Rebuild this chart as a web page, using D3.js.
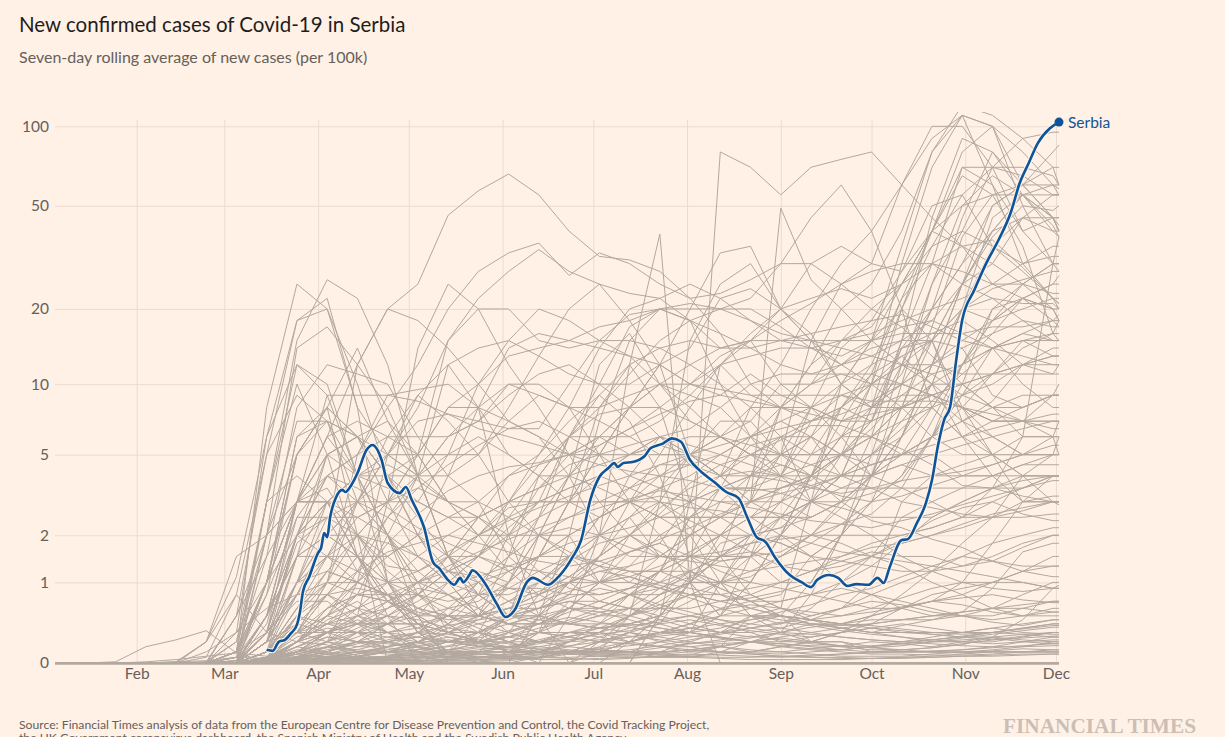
<!DOCTYPE html>
<html><head><meta charset="utf-8">
<script src="https://cdn.jsdelivr.net/npm/d3@7"></script>
<style>
html,body{margin:0;padding:0;background:#fff1e5;}
svg{display:block;font-family:Lato,"Noto Sans",sans-serif;}
</style></head><body>
<svg id="chart" width="1225" height="737"></svg>
<script>
// ---------- DATA ----------
const yTicks = [0, 1, 2, 5, 10, 20, 50, 100];
const monthTicks = ["2020-02-01","2020-03-01","2020-04-01","2020-05-01","2020-06-01","2020-07-01","2020-08-01","2020-09-01","2020-10-01","2020-11-01","2020-12-01"];

const serbiaDates = ["2020-03-15","2020-03-17","2020-03-19","2020-03-21","2020-03-23","2020-03-25","2020-03-26","2020-03-27","2020-03-29","2020-04-01","2020-04-02","2020-04-03","2020-04-04","2020-04-05","2020-04-07","2020-04-09","2020-04-10","2020-04-12","2020-04-14","2020-04-17","2020-04-19","2020-04-22","2020-04-24","2020-04-28","2020-04-30","2020-05-02","2020-05-06","2020-05-09","2020-05-11","2020-05-14","2020-05-16","2020-05-18","2020-05-19","2020-05-21","2020-05-22","2020-05-26","2020-05-30","2020-06-02","2020-06-05","2020-06-09","2020-06-11","2020-06-16","2020-06-20","2020-06-24","2020-06-27","2020-06-30","2020-07-03","2020-07-06","2020-07-08","2020-07-09","2020-07-11","2020-07-14","2020-07-18","2020-07-20","2020-07-24","2020-07-27","2020-07-30","2020-08-02","2020-08-05","2020-08-10","2020-08-14","2020-08-18","2020-08-21","2020-08-24","2020-08-27","2020-08-30","2020-09-04","2020-09-08","2020-09-11","2020-09-13","2020-09-17","2020-09-20","2020-09-23","2020-09-26","2020-09-30","2020-10-03","2020-10-05","2020-10-07","2020-10-11","2020-10-13","2020-10-16","2020-10-19","2020-10-21","2020-10-23","2020-10-25","2020-10-27","2020-10-29","2020-10-31","2020-11-04","2020-11-08","2020-11-12","2020-11-16","2020-11-19","2020-11-22","2020-11-25","2020-11-29","2020-12-02"];
const serbiaValues = [0.12,0.11,0.20,0.22,0.29,0.39,0.55,0.85,1.09,1.58,1.69,2.06,1.95,2.51,3.17,3.43,3.35,3.62,4.11,5.24,5.52,4.73,3.70,3.31,3.54,3.06,2.22,1.38,1.26,1.04,0.96,1.08,1.00,1.13,1.22,1.00,0.67,0.485,0.577,1.00,1.08,0.96,1.13,1.47,1.88,3.06,3.95,4.35,4.58,4.40,4.58,4.63,4.93,5.35,5.6,5.9,5.7,4.73,4.26,3.74,3.35,3.13,2.48,1.95,1.83,1.49,1.13,1.00,0.92,1.04,1.13,1.08,0.94,0.97,0.96,1.08,0.99,1.28,1.88,1.90,2.33,2.96,3.82,5.5,7.08,8.05,12.5,18.1,23.7,30.2,37,46.9,61,72.7,86.4,98.3,103.7];

// sample dates for the other countries (every ten days)
const sampleDates = ["2020-01-05","2020-01-15","2020-01-25","2020-02-04","2020-02-14","2020-02-24","2020-03-05","2020-03-15","2020-03-25","2020-04-04","2020-04-14","2020-04-24","2020-05-04","2020-05-14","2020-05-24","2020-06-03","2020-06-13","2020-06-23","2020-07-03","2020-07-13","2020-07-23","2020-08-02","2020-08-12","2020-08-22","2020-09-01","2020-09-11","2020-09-21","2020-10-01","2020-10-11","2020-10-21","2020-10-31","2020-11-10","2020-11-20","2020-11-30","2020-12-02"];

const europeSeries = [
[0,0,0,0,0,0,0.1,3,15,26,22,12,4,1.5,0.8,0.5,0.6,1,2,4,6,5,4,8,12,20,30,40,60,90,110,100,80,60,55],
[0,0,0,0,0,0,0.05,2,14,17,12,8,4,1.5,0.8,0.5,0.6,0.8,1.5,3,5,8,12,16,20,22,24,22,25,35,40,35,28,22,21],
[0,0,0,0,0,0.05,0.8,5,9,7,6,4,2.5,1.5,1,0.5,0.5,0.4,0.35,0.4,0.5,0.7,1,1.8,2.5,2.5,3,4,8,17,38,55,55,42,38],
[0,0,0,0,0,0,0.1,1.5,8,12,11,10,6,4,3,1.5,1,1,1,2,3,5,6,5,4,6,10,15,35,80,110,60,30,22,20],
[0,0,0,0,0,0,0.3,6,12,9,4,2,0.8,0.4,0.2,0.3,0.4,0.6,1,1.3,1.5,2,2.5,3,3.5,4,5,7,15,45,90,80,55,40,38],
[0,0,0,0,0,0,0.1,1,5,7,6,4,2,1,0.5,0.4,0.4,0.4,0.5,0.8,1.2,2.5,3.5,3.5,4,8,14,18,28,50,55,35,30,32,32],
[0,0,0,0,0,0,0.1,0.8,5,8,6,3,1.5,1,0.5,0.6,0.6,0.7,0.7,0.9,1.2,2,3.5,6,8,12,15,17,25,40,65,55,35,16,15],
[0,0,0,0,0,0,0.02,0.5,3,6,7,6,5,3,2,1.2,0.8,0.6,0.6,0.8,0.9,1.1,1.4,1.5,2,4,7,11,22,30,35,37,29,22,21],
[0,0,0,0,0,0.01,0.2,2,7,7,3,2,1,0.8,0.5,0.4,0.4,0.6,0.5,0.5,0.7,1,1.5,1.6,1.5,1.8,2.3,3,6,12,20,22,21,21,20],
[0,0,0,0,0,0,0.1,3,10,5,1.5,0.7,0.4,0.3,0.3,0.2,0.3,0.6,1,1.2,1.2,1.5,2,2.5,3.5,4,6,8,11,20,45,80,60,45,42],
[0,0,0,0,0,0,0.05,1,5,8,14,7,4,1.5,0.6,0.3,0.2,0.2,0.3,0.4,0.5,1,1.5,2,2.2,3,4,8,14,15,8,6,5,5,5],
[0,0,0,0,0,0,0.1,1,2,4,5,6,6,6,7,10,10,8,5,3,2.5,2.5,2.5,2.5,2.5,3,4,5,7,10,20,45,55,55,55],
[0,0,0,0,0,0,0,1,6,8,6,4,3,2.5,2.5,3,3,3,3,2,1.5,1.5,1.5,2,3,4,6,7,12,20,30,50,60,45,40],
[0,0,0,0,0,0,0.02,0.8,2.5,2.5,1.2,0.7,0.5,0.5,0.4,0.5,0.7,1,1.2,1.3,2,2.5,2.5,3.5,5,15,25,30,60,100,100,70,40,45,40],
[0,0,0,0,0,0,0.5,5,18,22,8,1,0.3,0.1,0,0,0.05,0.2,0.3,0.5,0.8,1.2,1,0.5,0.6,3,10,15,20,15,7,5,4,3,3],
[0,0,0,0,0,0.2,1.1,6,18,20,8,5,4,12,8,2,0.5,0,0.2,0.5,0.8,1,0.5,1,2,4,3,6,15,30,70,60,40,30,30],
[0,0,0,0,0,0,0.1,8,25,20,10,4,2,1,0.5,1,2,4,12,16,10,8,6,8,8,10,12,15,25,40,80,100,60,70,70],
[0,0,0,0,0,0,0.2,3,4,3,1.5,0.8,0.3,0.1,0.1,0.1,0.3,0.7,0.6,0.8,0.8,1,1,1,2,3,4,8,20,40,70,70,70,65,60],
[0,0,0,0,0,0,0.05,0.5,1.5,2,1.5,0.8,0.3,0.1,0,0.1,0.3,1.5,2,2.5,1.5,1.5,3,4,6,6,4,4,6,12,25,50,60,80,85],
[0,0,0,0,0,0,0,0.1,0.5,0.8,0.9,0.8,0.4,0.3,0.2,0.1,0.1,0.1,0.1,0.1,0.2,0.3,0.5,1.5,4,7,9,8,10,15,25,30,45,55,55],
[0,0,0,0,0,0,0,0.1,0.6,1,0.8,0.8,0.8,0.7,0.8,0.9,0.9,0.8,0.8,0.9,1,1.5,2,2,1.8,1.5,2,4,10,25,50,65,55,45,40],
[0,0,0,0,0,0,0,0.2,1,1.5,2,1.8,1.5,1,0.8,0.8,1,1.5,2.5,3.5,4.5,4.5,4,5,6,5,5,7,14,20,30,40,45,40,40],
[0,0,0,0,0,0,0,0.1,0.3,0.4,0.4,0.4,0.4,0.3,0.3,0.5,1,1.5,2,2.5,3,2.2,1.5,1.5,1,1,2,4,6,12,25,40,55,45,45],
[0,0,0,0,0,0,0,0.2,1.5,1.5,1.5,1,0.6,0.5,0.5,1.5,4,6,6,5,6,5,4,3,3,2.5,3,4,6,10,20,35,45,45,45],
[0,0,0,0,0,0,0,0.2,2,3,1.5,0.5,0,0,0,0,0.5,2,7,15,20,18,14,15,20,30,35,30,28,40,50,55,60,60,58],
[0,0,0,0,0,0,0,0,0.2,0.5,0.8,1,1,1,1.1,1.3,1.5,1.8,2,2.2,2.5,3,4,5.5,6,7,8,10,12,15,20,24,26,28,28],
[0,0,0,0,0,0,0,0.05,0.3,1,3,5,7,7.5,6.5,6,5.5,5,4.5,4.2,4,3.8,3.5,3.4,3.5,3.8,5,6.5,9,11,12,14,16,18,18],
[0,0,0,0,0,0,0,0.1,1,2,3,4,4,4,5,7,9,8,8,9,10,10,12,13,14,14,15,16,18,20,22,25,30,35,35],
[0,0,0,0,0,0,0,0.2,0.8,1,1,0.8,0.3,0.2,0.2,0.5,2,4,6,6,5,5,4,4,4,4,5,5,6,8,12,16,22,25,25],
[0,0,0,0,0,0,0,0.2,1,1.2,1,0.8,0.5,0.3,0.2,0.2,0.2,0.3,0.3,0.5,0.8,1,1,1.2,1.5,2,3,4,8,15,25,40,55,60,60],
[0,0,0,0,0,0,0,0.5,2,1.5,1,0.8,0.5,0.3,0.2,0.1,0.1,0.1,0.1,0.2,0.3,0.3,0.5,0.5,0.5,1,2,3,4,7,12,18,25,30,30],
[0,0,0,0,0,0,0.02,0.3,0.7,0.7,0.4,0.2,0.1,0.05,0.05,0.05,0.05,0.1,0.2,0.3,0.4,1,1.8,2,2.2,2.5,3,3.3,3.8,6,12,20,22,18,17],
[0,0,0,0,0,0,0.5,2,3,3,3,2.5,2,1.2,0.8,0.5,0.4,0.4,0.4,0.4,0.5,1,1.5,1.5,2,4,6,6,5,6,9,14,15,13,13],
[0,0,0,0,0,0,0.02,0.5,1.5,2,1.5,1,0.8,0.5,0.3,0.2,0.1,0.1,0.1,0.1,0.1,0.2,0.3,0.5,0.4,0.6,1,1.5,2.5,3,2.5,2.5,4,4,4],
[0,0,0,0,0,0,0,0.3,0.8,0.8,0.5,0.3,0.1,0.05,0.1,0.1,0.2,0.3,0.3,0.5,0.6,0.8,1,1.5,2.5,4,8,12,22,40,35,30,25,23,23],
[0,0,0,0,0,0,0,0.05,0.1,0.3,0.4,0.4,0.2,0.1,0.1,0.1,0.1,0.1,0.1,0.1,0.05,0.05,0.1,0.2,0.3,0.8,2,5,12,25,40,70,90,95,95],
[0,0,0,0,0,0,0,1,3,3,1.5,0.7,0.4,0.1,0.3,0.1,0,0,0.1,0.2,0.5,3,12,15,10,8,6,4,5,8,12,18,22,20,18],
[0,0,0,0,0,0,0,1,3,3,2,1,0.4,0.1,0.1,0.1,0.1,0.1,0.1,0.2,0.3,0.4,0.6,0.7,0.8,1.5,2,3,4,6,10,20,25,20,18],
[0,0,0,0,0,0,0,3,12,10,4,1,0.5,0,0,0,0.5,1,1.5,2,2,1,0.5,1,2,3,5,10,30,70,110,100,50,30,30]
];

const americasMiddleEastSeries = [
[0,0,0,0,0,0,0.3,1,3,6,12,20,25,46,57,66,55,40,32,31,28,22,16,10,8,8,7,7,8,9,8,7,7,6,6],
[0,0,0,0,0,0.2,1.5,2,3,4,5,8,12,20,28,33,36,27,33,30,25,22,23,26,30,30,25,20,17,13,10,8,6,6,6],
[0,0,0,0,0,0.1,0.3,0.6,0.8,1.5,3,5,8,15,20,20,15,14,15,15,14,15,14,14,15,15,15,15,17,18,16,14,10,8,8],
[0,0,0,0,0,0,0,0.3,3,9,9,9,8.5,7.5,7,6.5,6.5,10,15,19,20,18,16,14,12,11,12,13,15,18,25,38,50,48,50],
[0,0,0,0,0,0,0,0.05,0.5,1,2,3,5,8,10,13,14,15,17,18,20,21,20,18,16,15,14,13,12,11,9,11,14,16,18],
[0,0,0,0,0,0,0,0.3,2,2.5,2.5,3,5,15,22,28,34,28,25,18,12,10,9.5,9,9,9,9,8.5,8.5,8.5,8,7.5,7,7,7],
[0,0,0,0,0,0,0,0.1,0.8,2,3,6,9,12,14,15,13,11,10,10,12,14,22,24,20,15,12,10,8,8,6,5,4,4,4],
[0,0,0,0,0,0,0,0.5,3,6,4,4,5,5,5,8,13,20,25,23,22,25,22,18,15,14,12,14,15,15,20,18,22,25,27],
[0,0,0,0,0,0,0.05,1,6,7,4,2,1,0.3,0.3,1,2.5,6,10,17,20,20,20,22,30,45,60,40,20,8,6,7,7,9,10],
[0,0,0,0,0,0,0,2,5,8,2,0,0,0,0,0,0,0,0,0,0.5,1,80,70,55,70,75,80,60,45,35,25,25,30,28],
[0,0,0,0,0,0,0,0.5,2,3,2.5,3,3,5,10,15,20,18,15,13,10,7,6,5,5,5,6,10,20,35,55,70,65,55,55],
[0,0,0,0,0,0,0,0.02,0.3,0.3,0.3,0.3,0.4,0.5,1,1.5,2.5,4,5.5,6.5,8,10,13,15,18,21,25,28,30,30,25,22,18,15,15],
[0,0,0,0,0,0,0,0.05,0.2,0.3,0.4,0.5,0.7,1,1.5,2,3,6,8,11,15,18,20,20,17,14,13,15,16,16,16,17,17,18,19],
[0,0,0,0,0,0,0,0.1,0.5,0.4,0.3,0.1,0.1,0.1,0.2,0.5,1.5,3,5,8,10,12,14,15,15,16,17,18,19,17,15,14,15,15,15],
[0,0,0,0,0,0,0,0.3,0.8,2,12,20,18,14,10,7,6,5,3,3,2,2,1,0.5,0.3,0.2,0.2,0.1,0.1,0.1,0.1,0.1,0.1,0.1,0.1],
[0,0,0,0,0,0,0,0.2,0.3,0.2,0.5,3,14,25,20,12,8,5,6,8,12,20,33,35,20,16,10,8,8,6,5,5,6,6,5],
[0,0,0,0,0,0,0,0,0,0,0,0,0,0,0,0,0,0.5,2,12,39,1,0,0,0,0,0,0,0,0,0,0,0,0,0],
[0,0,0,0,0,0,0,0,0.5,0.3,0,0,0,0.1,0.5,1,2,2,1,1,1.5,2,2,3,49,26,20,15,12,10,8,5,3,3,3],
[0,0,0,0,0,0,0,1,3,5,4,2,0.5,0,0,0,0,0,0,0,0.5,1,2,3,8,12,20,25,40,80,120,110,90,70,60],
[0,0,0,0,0,0.01,0.5,1.5,3,3.5,2,1.3,1.2,1.5,2,2.8,3,3,3,3,3,2.8,2.7,2.5,2.5,3,4,4.5,5,6,8,11,15,16,16],
[0,0,0,0,0,0,0,0.1,1.5,5,6,4,2,1.5,1.2,1,1.5,1.5,1.3,1.2,1.2,1.2,1.5,1.8,1.9,2,2,2,2,2.2,2.5,3.5,6,30,38],
[0,0,0,0,0,0,0,0.3,2,3,4,4.5,3.8,3,2.5,1.8,1.2,0.9,0.8,0.9,1.2,1,1,1.1,1.5,2,2.8,4,5,6,7,8.5,12,14,14],
[0,0,0,0,0,0,0,0,0.05,0.1,0.3,0.6,1,1.5,2.5,3,3.5,4.5,5,5,5.5,5,4.5,4,3.8,3.5,3.3,3.5,3.8,4,4.2,4.5,5,6,7],
[0,0,0,0,0,0,0,0.2,0.4,0.3,0.3,0.4,0.5,1,1.5,3,5,8,14,20,22,18,10,6,4,3,2.8,2.5,2.5,2.5,3,3.5,4,5,6],
[0,0,0,0,0,0,0,0.02,0.1,0.1,0.2,0.4,0.8,1.5,2.5,4,5,7,9,12,14,12,10,8,6,3,2.5,2,1.5,1.2,1,1,1.2,1.5,1.5],
[0,0,0,0,0,0,0,0.2,1,2.5,3,3,3.5,3,3,4,4.5,5,6,8,10,9,8,6,5,4,3.5,3.5,3.5,3.5,3.5,3.5,3.5,4,4],
[0,0,0,0,0,0,0,0.3,2,5,6,7,5,3,2,2,2.5,3,4,5,5,5,7,7,5,5,5,5,5,5,4,4,4,4,4],
[0,0,0,0,0,0,0,0.05,0.3,0.5,1.2,2.5,4,6,7,9,11,12,10,8,6,4.5,3.5,2.5,2,1.8,1.6,1.5,1.4,1.3,1.2,1.1,1,0.9,0.9],
[0,0,0,0,0,0,0.1,0.3,1,3,4,5,5,8,8,5,4,4,3.5,3,2.5,2.5,3,3,5,8,9,10,12,12,11,11,11,11,12],
[0,0,0,0,0,0,0,0.1,0.3,0.8,1.5,1.5,2,4,8,14,16,15,14,13,12,5,6,5,5,6,8,11,13,10,6,4,3,3,3]
];

const asiaSeries = [
[0,0,0,0,0,0,0,0,0.01,0.03,0.06,0.1,0.2,0.3,0.5,0.7,0.85,1.1,1.5,2,2.6,3.7,4.5,5,5.8,6.7,6.7,6,5.3,4.5,3.6,3.5,3.2,3,2.9],
[0,0,0,0,0,0,0,0,0.03,0.05,0.1,0.1,0.12,0.2,0.2,0.25,0.35,0.42,0.55,0.6,0.6,0.6,0.7,0.8,1,1.2,1.4,1.6,1.5,1.5,1.3,1.4,1.7,2,2],
[0,0,0,0,0,0,0,0.01,0.1,0.25,0.2,0.2,0.25,0.2,0.25,0.5,0.5,0.6,1,1.6,1.8,3,3.5,3.5,3.3,3,3,2.4,2.2,1.9,1.7,1.4,1.3,1.3,1.3],
[0,0,0,0,0.01,0.02,0.05,0.04,0.1,0.3,0.45,0.3,0.15,0.05,0.03,0.04,0.04,0.08,0.15,0.3,0.6,1.1,0.9,0.7,0.5,0.45,0.4,0.45,0.45,0.45,0.55,0.9,1.6,1.8,1.8],
[0,0,0,0,0.01,0.2,0.8,0.3,0.2,0.17,0.06,0.02,0.01,0.04,0.05,0.08,0.08,0.09,0.08,0.07,0.08,0.07,0.15,0.5,0.5,0.2,0.15,0.12,0.12,0.14,0.17,0.25,0.45,0.9,0.95],
[0,0,0.01,0.15,0.22,0.32,0.09,0.01,0.01,0.01,0.01,0,0,0,0,0,0,0,0,0,0,0,0,0,0,0,0,0,0,0,0,0,0,0,0],
[0,0,0,0.01,0.03,0.06,0.09,0.06,0.05,0.03,0.02,0.01,0.01,0,0,0,0,0,0,0,0,0,0,0,0,0,0,0,0,0,0,0,0,0,0],
[0,0,0,0,0,0,0,0.02,0.1,0.3,0.4,0.6,0.8,1.2,1.5,2.5,4,6,9,7,4,1.5,0.8,0.6,0.5,0.4,0.4,0.5,0.6,0.7,1,1.8,3,4,4],
[0,0,0,0,0,0,0,0,0.2,0.6,0.8,0.7,0.5,0.6,0.7,1,1.5,3,8,12,8,3,1.5,0.8,0.6,0.5,0.6,1,3,4,4,4,4.5,4.5,4.5],
[0,0,0,0,0,0,0,0.1,0.3,1,5,9,9.5,10,8,7,6,4,2,1.5,1.5,1.5,1.4,1.5,1.6,2,2.3,2.6,3.5,6,9,10,12,13,13],
[0,0,0,0,0,0,0,0.2,1,2,2,1.5,1,1.5,1.5,1.2,1.5,3,5,8,12,10,9,11,9,8,7,8,10,12,15,18,20,22,22],
[0,0,0,0,0,0,0,0.02,0.2,0.4,0.5,0.6,0.8,1.2,2,3,4.5,6,7.5,8,8,7,6,5,4.5,4,4,4,4.5,4,4.5,5,5,5,5],
[0,0,0,0,0,0,0,0.05,0.1,0.2,0.15,0.15,0.2,0.4,0.8,2,3.5,5,5,5.5,6,6.5,8,10,11,11,11,10,10,9,8,7,7,6.5,6.5],
[0,0,0,0,0,0,0,0.02,0.15,0.3,0.5,0.4,0.4,0.2,0.15,0.15,0.5,1,0.7,0.6,1.2,2.5,3.5,4,4.5,4,5,6,8,10,10,11,12,12,12],
[0,0,0,0,0,0,0,0.05,0.2,0.3,0.2,0.1,0.05,0.02,0.02,0.03,0.05,0.1,0.1,0.2,0.3,0.3,1,2,3,5,8,10,13,15,14,9,8,9,9],
[0,0,0,0,0,0,0,0.01,0.05,0.1,0.2,0.2,0.3,0.5,0.5,0.4,0.5,0.8,1.5,2.5,3.5,5,6,7,10,10,11,11,10,9,8,7,8,9,9],
[0,0,0,0,0,0,0,0,0.2,0.4,0.8,2,4,6,8,10,9,8,7,6,7,9,12,9,8,7,8,7,8,9,10,8,8,9,9],
[0,0,0,0,0,0,0,0.1,0.5,1.2,1,0.8,0.6,0.4,0.2,0.1,0.1,0.1,0.1,0.5,3,15,25,30,20,15,10,8,9,9,7,6,5,5,5],
[0,0,0,0,0,0,0,0,0.1,0.2,0.1,0,0,0,0,0,0,0,0,0.2,0.5,1,1.5,4,8,10,15,20,25,30,28,25,22,20,20],
[0,0,0,0,0,0,0,0,0.02,0.05,0.05,0.05,0.05,0.05,0.1,0.3,0.8,1.5,2.5,3,4,5,4,3,2.5,2,1.8,1.5,1.3,1,0.8,0.6,0.5,0.5,0.5],
[0,0,0,0,0,0,0,0,0.1,0.2,1,5,9,7,5,3,2,1.5,1,0.8,0.6,0.5,0.4,0.3,0.2,0.2,0.2,0.15,0.1,0.1,0.1,0.1,0.1,0.1,0.1]
];

const midSeries = [
[0,0,0,0,0,0,0,0.2,1.5,3,4,3.5,3,2.5,2,2.5,3,3.5,4,5,6,5.5,5,4.5,4,4.5,5,6,7,8,9,8,7,7,7],
[0,0,0,0,0,0,0,0.1,0.6,1.2,2,3,4,5,6,5,4,3,2.5,3,3.5,4,5,6,7,6,5,4.5,5,6,7,8,9,9,9],
[0,0,0,0,0,0,0,0.3,2,4,3,2,1.5,1.2,1,1.2,1.5,2,2.5,3,2.5,2,2.5,3,3.5,4,5,6,8,10,12,14,13,12,12],
[0,0,0,0,0,0,0,0.05,0.3,0.8,1.5,2.5,3.5,4.5,5.5,6.5,7,6,5,4,3.5,3,3.5,4,5,6,5,4,3.5,3,3.5,4,4.5,5,5],
[0,0,0,0,0,0,0,0.5,3,5,6,5,4,3,2.5,2,2,2.5,3,3.5,4,4.5,5,6,7,8,10,12,14,16,18,15,12,11,11],
[0,0,0,0,0,0,0,0,0.1,0.3,0.6,1,1.5,2,2.5,3,3.5,4,4.5,5,5.5,6,6,5.5,5,4.5,4,3.5,3,2.8,2.6,2.5,2.5,2.6,2.6],
[0,0,0,0,0,0,0,0.2,1,1.5,1.2,1,1.2,1.6,2,2.4,2.8,3.2,3.6,4,4.5,5,5.5,6,6.5,7,7.5,8.5,10,12,14,16,18,17,17],
[0,0,0,0,0,0,0,0.1,0.4,0.8,1.2,1.6,1.8,2,1.8,1.6,1.4,1.3,1.4,1.6,1.9,2.2,2.6,3,3.3,3.6,4,4.5,5,5.5,6,6.5,7,7.5,7.5],
[0,0,0,0,0,0,0,0.3,1.8,2.5,2,1.2,0.8,0.6,0.5,0.6,0.8,1.1,1.5,2,2.8,3.5,4,4.2,4,3.6,3.2,3,3.2,3.6,4,4.5,5,5.5,5.5],
[0,0,0,0,0,0,0,0.05,0.2,0.5,1,1.8,2.6,3.4,4,4.4,4.6,5,5.5,6.5,7.5,8.5,9,8.5,8,7.5,7,7.5,8,9,10,11,12,13,13],
[0,0,0,0,0,0,0,0.4,2.5,4,3.5,2.8,2.2,1.8,1.5,1.3,1.2,1.1,1,1.1,1.3,1.6,2,2.5,3,3.5,4,5,6.5,8.5,11,14,16,15,15],
[0,0,0,0,0,0,0,0,0.05,0.2,0.4,0.7,1,1.3,1.6,1.9,2.2,2.5,2.8,3.1,3.4,3.2,3,2.8,2.6,2.4,2.3,2.2,2.4,2.6,2.9,3.2,3.5,3.8,3.8]
];

const lowSeries = [
[0,0,0,0,0,0,0,0.02,0.1,0.2,0.3,0.25,0.2,0.2,0.3,0.5,0.6,0.7,0.6,0.5,0.4,0.3,0.25,0.2,0.2,0.25,0.3,0.35,0.4,0.35,0.3,0.3,0.35,0.4,0.4],
[0,0,0,0,0,0,0,0,0.02,0.05,0.08,0.1,0.15,0.2,0.3,0.4,0.5,0.4,0.35,0.3,0.25,0.2,0.15,0.1,0.1,0.08,0.06,0.06,0.06,0.08,0.1,0.12,0.15,0.2,0.2],
[0,0,0,0,0,0,0,0.05,0.2,0.4,0.6,0.8,1,1.2,1.1,0.9,0.8,1,1.3,1.6,1.8,1.5,1.2,1,0.9,0.8,0.7,0.6,0.6,0.7,0.8,1,1.2,1.3,1.3],
[0,0,0,0,0,0,0,0,0.01,0.02,0.02,0.03,0.05,0.08,0.1,0.15,0.2,0.3,0.35,0.4,0.35,0.3,0.25,0.2,0.15,0.12,0.1,0.08,0.08,0.07,0.07,0.08,0.1,0.12,0.12],
[0,0,0,0,0,0,0,0.03,0.2,0.5,0.7,0.4,0.2,0.1,0.05,0.05,0.1,0.2,0.4,0.8,1.2,1.5,1.6,1.8,2,1.5,1,0.8,0.6,0.5,0.5,0.6,0.8,1,1],
[0,0,0,0,0,0,0,0.01,0.05,0.1,0.2,0.4,0.6,0.8,1,0.7,0.5,0.4,0.5,0.6,0.5,0.4,0.3,0.3,0.35,0.45,0.6,0.8,1,1.2,1.5,1.8,2,2.2,2.2],
[0,0,0,0,0,0,0,0,0,0.01,0.02,0.05,0.08,0.1,0.08,0.06,0.05,0.05,0.06,0.08,0.1,0.12,0.1,0.08,0.06,0.05,0.05,0.04,0.04,0.05,0.06,0.06,0.07,0.08,0.08],
[0,0,0,0,0,0,0,0.02,0.15,0.3,0.5,0.7,0.9,0.8,0.6,0.4,0.3,0.25,0.2,0.25,0.3,0.4,0.5,0.6,0.7,0.8,1,1.3,1.8,2.5,3,3.5,3.8,4,4],
[0,0,0,0,0,0,0,0,0.02,0.05,0.1,0.15,0.2,0.35,0.5,0.7,1,1.4,1.8,2,1.6,1.2,0.9,0.7,0.5,0.4,0.35,0.3,0.3,0.3,0.3,0.35,0.4,0.45,0.45],
[0,0,0,0,0,0,0,0.01,0.03,0.05,0.05,0.06,0.08,0.12,0.15,0.2,0.3,0.45,0.6,0.8,1,1.2,1,0.8,0.6,0.45,0.35,0.3,0.25,0.2,0.2,0.2,0.25,0.3,0.3],
[0,0,0,0,0,0,0,0.1,0.4,0.8,0.6,0.3,0.15,0.08,0.05,0.05,0.1,0.2,0.3,0.2,0.15,0.1,0.1,0.1,0.15,0.2,0.3,0.5,0.8,1.2,1.8,2.5,3,3.2,3.2],
[0,0,0,0,0,0,0,0,0,0.02,0.05,0.1,0.2,0.3,0.4,0.3,0.2,0.15,0.12,0.1,0.1,0.12,0.15,0.2,0.18,0.15,0.12,0.1,0.1,0.1,0.12,0.15,0.2,0.25,0.25],
[0,0,0,0,0,0,0,0.05,0.3,0.5,0.4,0.3,0.35,0.5,0.8,1.2,1.5,2,2.5,3,3.2,3,2.5,2,1.8,1.5,1.4,1.3,1.2,1.2,1.3,1.5,1.8,2,2],
[0,0,0,0,0,0,0,0,0.01,0.03,0.06,0.1,0.12,0.15,0.2,0.25,0.3,0.25,0.2,0.18,0.15,0.15,0.18,0.2,0.25,0.3,0.35,0.4,0.45,0.5,0.55,0.6,0.6,0.55,0.55],
[0,0,0,0,0,0,0,0.02,0.1,0.15,0.12,0.1,0.08,0.06,0.05,0.04,0.03,0.03,0.04,0.05,0.06,0.05,0.04,0.03,0.03,0.03,0.03,0.04,0.05,0.06,0.08,0.1,0.1,0.1,0.1],
[0,0,0,0,0,0,0,0.03,0.2,0.6,1,1.5,2,2.5,3,2.5,2,1.6,1.3,1,0.9,0.8,0.8,0.9,1,1.2,1.5,1.8,2,2.2,2.5,3,3.5,4,4],
[0,0,0,0,0,0,0,0,0.05,0.15,0.3,0.5,0.8,1.2,1.5,2.2,3,3.5,4,3.5,3,2.4,2,1.6,1.3,1.2,1.3,1.5,1.8,2,2.3,2.6,2.8,3,3],
[0,0,0,0,0,0,0,0.01,0.04,0.08,0.1,0.08,0.06,0.06,0.08,0.1,0.15,0.2,0.22,0.25,0.3,0.35,0.4,0.45,0.5,0.45,0.4,0.35,0.3,0.28,0.25,0.25,0.28,0.3,0.3],
[0,0,0,0,0,0,0,0,0.03,0.08,0.12,0.2,0.25,0.4,0.6,0.9,1.2,1.5,1.4,1.2,1,0.9,0.8,0.7,0.7,0.8,0.9,0.8,0.7,0.6,0.5,0.5,0.6,0.7,0.7],
[0,0,0,0,0,0,0,0.02,0.08,0.05,0.03,0.02,0.02,0.03,0.04,0.06,0.1,0.15,0.25,0.35,0.45,0.5,0.45,0.4,0.35,0.3,0.25,0.22,0.2,0.18,0.16,0.15,0.15,0.16,0.16],
[0,0,0,0,0,0,0,0.01,0.05,0.15,0.25,0.4,0.6,0.5,0.35,0.2,0.12,0.08,0.06,0.05,0.05,0.06,0.08,0.1,0.15,0.2,0.3,0.4,0.6,0.8,0.9,1,1,0.9,0.9],
[0,0,0,0,0,0,0,0,0.02,0.04,0.08,0.15,0.3,0.6,1,1.5,2,2.2,2,1.7,1.5,1.4,1.3,1.2,1.3,1.4,1.5,1.7,1.8,2,2.2,2.5,2.7,3,3],
[0,0,0,0,0,0,0,0.05,0.15,0.1,0.05,0.03,0.02,0.01,0.01,0.02,0.05,0.1,0.2,0.3,0.2,0.15,0.1,0.08,0.06,0.05,0.04,0.04,0.05,0.05,0.06,0.07,0.08,0.08,0.08],
[0,0,0,0,0,0,0,0.1,0.6,1.5,2.5,2,1.2,0.8,0.5,0.4,0.3,0.3,0.4,0.6,0.9,1.2,1.5,2,2.5,3,3.5,4,4.5,5,5.5,6,6.5,7,7],
[0,0,0,0,0,0,0,0.01,0.08,0.15,0.1,0.12,0.18,0.25,0.2,0.15,0.22,0.3,0.25,0.2,0.28,0.35,0.3,0.25,0.3,0.4,0.35,0.3,0.38,0.45,0.5,0.42,0.38,0.45,0.45],
[0,0,0,0,0,0,0,0,0.01,0.03,0.05,0.04,0.03,0.05,0.08,0.06,0.05,0.09,0.12,0.1,0.08,0.1,0.15,0.12,0.1,0.13,0.16,0.2,0.18,0.15,0.2,0.25,0.22,0.2,0.2],
[0,0,0,0,0,0,0,0.05,0.25,0.35,0.3,0.2,0.15,0.12,0.18,0.25,0.4,0.55,0.7,0.6,0.45,0.35,0.3,0.4,0.5,0.45,0.4,0.5,0.6,0.7,0.65,0.55,0.5,0.6,0.6],
[0,0,0,0,0,0,0,0,0.02,0.06,0.1,0.14,0.1,0.08,0.06,0.05,0.07,0.1,0.14,0.2,0.26,0.3,0.24,0.2,0.16,0.13,0.12,0.15,0.2,0.25,0.3,0.35,0.3,0.28,0.28],
[0,0,0,0,0,0,0,0.02,0.1,0.2,0.35,0.5,0.45,0.35,0.3,0.25,0.2,0.22,0.28,0.32,0.4,0.45,0.38,0.32,0.28,0.25,0.3,0.35,0.32,0.28,0.25,0.22,0.24,0.26,0.26],
[0,0,0,0,0,0,0,0,0,0.01,0.03,0.06,0.12,0.2,0.3,0.45,0.6,0.75,0.9,0.8,0.65,0.55,0.45,0.35,0.3,0.28,0.25,0.22,0.2,0.22,0.25,0.3,0.35,0.4,0.4],
[0,0,0,0,0,0,0,0.03,0.12,0.08,0.05,0.04,0.06,0.1,0.14,0.12,0.1,0.08,0.07,0.06,0.09,0.12,0.16,0.2,0.24,0.2,0.16,0.14,0.12,0.14,0.18,0.22,0.26,0.3,0.3],
[0,0,0,0,0,0,0,0.01,0.04,0.1,0.18,0.25,0.3,0.38,0.45,0.5,0.45,0.4,0.35,0.38,0.42,0.5,0.58,0.65,0.6,0.55,0.5,0.55,0.62,0.7,0.75,0.8,0.72,0.68,0.68],
[0,0,0,0,0,0,0,0,0.01,0.02,0.04,0.03,0.02,0.02,0.03,0.04,0.05,0.04,0.03,0.04,0.06,0.08,0.07,0.06,0.05,0.06,0.08,0.1,0.12,0.1,0.09,0.11,0.13,0.12,0.12],
[0,0,0,0,0,0,0,0.04,0.2,0.45,0.6,0.5,0.35,0.25,0.2,0.3,0.45,0.6,0.55,0.45,0.35,0.3,0.35,0.45,0.55,0.65,0.8,0.9,1.1,1.3,1.5,1.4,1.2,1.1,1.1],
[0,0,0,0,0,0,0,0,0.03,0.08,0.15,0.22,0.3,0.28,0.22,0.18,0.15,0.12,0.1,0.12,0.16,0.22,0.28,0.35,0.42,0.38,0.32,0.28,0.25,0.22,0.2,0.18,0.2,0.22,0.22],
[0,0,0,0,0,0,0,0.01,0.03,0.05,0.04,0.06,0.1,0.16,0.24,0.32,0.4,0.48,0.42,0.36,0.3,0.26,0.24,0.2,0.18,0.16,0.15,0.16,0.18,0.2,0.22,0.24,0.2,0.18,0.18],
[0,0,0,0,0,0,0,0.02,0.06,0.12,0.2,0.3,0.25,0.2,0.16,0.14,0.18,0.25,0.35,0.5,0.65,0.8,0.7,0.6,0.5,0.45,0.5,0.6,0.75,0.9,1,0.9,0.85,0.9,0.9],
[0,0,0,0,0,0,0,0,0,0,0.01,0.02,0.04,0.06,0.1,0.14,0.2,0.26,0.3,0.26,0.22,0.18,0.2,0.24,0.3,0.36,0.4,0.38,0.34,0.3,0.28,0.3,0.34,0.38,0.38],
[0,0,0,0,0,0,0,0.01,0.05,0.06,0.04,0.03,0.02,0.03,0.05,0.08,0.12,0.16,0.2,0.18,0.15,0.12,0.1,0.09,0.08,0.1,0.12,0.15,0.18,0.22,0.26,0.3,0.28,0.25,0.25],
[0,0,0,0,0,0,0,0.05,0.3,0.6,0.8,0.7,0.55,0.45,0.5,0.6,0.7,0.85,1,1.1,0.95,0.8,0.7,0.75,0.85,1,1.2,1.5,1.9,2.4,2.8,3,2.6,2.4,2.4],
[0,0,0,0,0,0,0,0,0.02,0.04,0.06,0.1,0.16,0.22,0.18,0.14,0.1,0.08,0.08,0.1,0.14,0.18,0.22,0.26,0.22,0.18,0.16,0.14,0.16,0.2,0.24,0.28,0.32,0.36,0.36],
[0,0,0,0,0,0,0,0.02,0.08,0.14,0.2,0.18,0.14,0.1,0.08,0.07,0.08,0.1,0.13,0.16,0.2,0.25,0.3,0.35,0.4,0.5,0.6,0.7,0.65,0.55,0.5,0.45,0.5,0.55,0.55],
[0,0,0,0,0,0,0,0,0.01,0.02,0.03,0.05,0.07,0.09,0.12,0.15,0.13,0.11,0.09,0.08,0.07,0.06,0.05,0.05,0.06,0.07,0.08,0.09,0.1,0.11,0.12,0.14,0.16,0.18,0.18],
[0,0,0,0,0,0,0,0.03,0.15,0.25,0.2,0.15,0.2,0.3,0.45,0.6,0.8,1,1.2,1.1,0.9,0.75,0.6,0.5,0.45,0.4,0.38,0.4,0.45,0.5,0.55,0.6,0.65,0.7,0.7]
];

// ---------- CHART ----------
const W = 1225, H = 737;
const parse = d3.timeParse("%Y-%m-%d");
const svg = d3.select("#chart");
svg.append("rect").attr("width", W).attr("height", H).attr("fill", "#fff1e5");

const x = d3.scaleTime().domain([parse("2020-01-05"), parse("2020-12-02")]).range([55, 1059]);
const y = d3.scaleSymlog().constant(1).domain([0, 100]).range([663, 126.3]);

const textColor = "#66605c";
const fontFam = "Lato, 'Noto Sans', sans-serif";

// y axis + horizontal grid
const yAxis = svg.append("g").attr("transform", "translate(55,0)")
  .call(d3.axisLeft(y).tickValues(yTicks).tickFormat(d3.format("d")).tickSize(-(1059 - 55)).tickPadding(6));
yAxis.select(".domain").remove();
yAxis.selectAll(".tick line").attr("stroke", d => d === 0 ? "#b3a89f" : "#eadccf").attr("stroke-width", d => d === 0 ? 2.5 : 1);
yAxis.selectAll(".tick text").attr("fill", textColor).style("font-size", "15.5px").style("font-family", fontFam);

// x axis + vertical grid
const xAxis = svg.append("g").attr("transform", "translate(0,663)")
  .call(d3.axisBottom(x).tickValues(monthTicks.map(parse)).tickFormat(d3.timeFormat("%b")).tickSize(-(663 - 120)).tickPadding(5));
xAxis.select(".domain").remove();
xAxis.selectAll(".tick line").attr("stroke", "#eadccf");
xAxis.selectAll(".tick text").attr("fill", textColor).style("font-size", "15.5px").style("font-family", fontFam);

// clip
svg.append("defs").append("clipPath").attr("id", "plotclip")
  .append("rect").attr("x", 50).attr("y", 112).attr("width", 1015).attr("height", 560);

const sDates = sampleDates.map(parse);
const lineGen = d3.line().x(d => x(d[0])).y(d => y(d[1])).curve(d3.curveLinear);

const greyG = svg.append("g").attr("clip-path", "url(#plotclip)");
const allGrey = [].concat(lowSeries, midSeries, asiaSeries, americasMiddleEastSeries, europeSeries);
greyG.selectAll("path.grey").data(allGrey).join("path")
  .attr("class", "grey")
  .attr("fill", "none")
  .attr("stroke", "#b3a89f")
  .attr("stroke-width", 1)
  .attr("stroke-linejoin", "round")
  .attr("d", vals => lineGen(vals.map((v, i) => [sDates[i], v])));

// Serbia
const serbia = serbiaDates.map((d, i) => [parse(d), serbiaValues[i]]);
const sLine = d3.line().x(d => x(d[0])).y(d => y(d[1])).curve(d3.curveMonotoneX);
svg.append("path").attr("d", sLine(serbia)).attr("fill", "none")
  .attr("stroke", "#fff7f0").attr("stroke-width", 5).attr("stroke-opacity", 0.85).attr("stroke-linejoin", "round");
svg.append("path").attr("d", sLine(serbia)).attr("fill", "none")
  .attr("stroke", "#0f5499").attr("stroke-width", 2.6).attr("stroke-linejoin", "round");
const last = serbia[serbia.length - 1];
svg.append("circle").attr("cx", x(last[0])).attr("cy", y(last[1])).attr("r", 4.5).attr("fill", "#0f5499");
svg.append("text").attr("x", x(last[0]) + 9).attr("y", y(last[1])).attr("dy", "0.35em")
  .attr("fill", "#0f5499").style("font-size", "15.5px").text("Serbia");

// titles
svg.append("text").attr("x", 19).attr("y", 32).attr("fill", "#1f1d1c").style("font-size", "20.5px")
  .text("New confirmed cases of Covid-19 in Serbia");
svg.append("text").attr("x", 19).attr("y", 63).attr("fill", textColor).style("font-size", "16px")
  .text("Seven-day rolling average of new cases (per 100k)");

// source
svg.append("text").attr("x", 19).attr("y", 729).attr("fill", textColor).style("font-size", "12.2px")
  .text("Source: Financial Times analysis of data from the European Centre for Disease Prevention and Control, the Covid Tracking Project,");
svg.append("text").attr("x", 19).attr("y", 742).attr("fill", textColor).style("font-size", "12.2px")
  .text("the UK Government coronavirus dashboard, the Spanish Ministry of Health and the Swedish Public Health Agency");

// logo
svg.append("text").attr("x", 1003).attr("y", 733).attr("fill", "#cbbfb5")
  .style("font-family", "'Liberation Serif','DejaVu Serif',serif").style("font-size", "22px").style("font-weight", "bold")
  .attr("textLength", 193).attr("lengthAdjust", "spacingAndGlyphs")
  .text("FINANCIAL TIMES");
</script>
</body></html>
